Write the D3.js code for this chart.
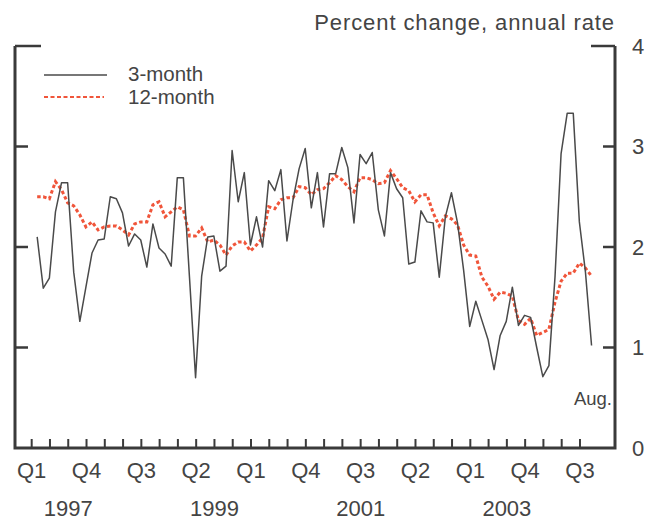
<!DOCTYPE html>
<html>
<head>
<meta charset="utf-8">
<script src="https://cdn.jsdelivr.net/npm/d3@7"></script>
<style>
  body { margin: 0; background: #fff; }
  svg text { font-family: "Liberation Sans", Arial, Helvetica, sans-serif; fill: #444; }
</style>
</head>
<body>
<div id="chart"></div>
<script>
// monthly, Jan 1997 .. Aug 2004
const startYear = 1997;
const threeMonth = [
  2.10, 1.59, 1.69, 2.35, 2.64, 2.64, 1.75, 1.26, 1.60, 1.94, 2.07, 2.08,
  2.50, 2.48, 2.34, 2.01, 2.13, 2.07, 1.80, 2.23, 1.99, 1.93, 1.81, 2.69,
  2.69, 1.70, 0.70, 1.71, 2.10, 2.11, 1.76, 1.81, 2.96, 2.45, 2.74, 2.02,
  2.30, 2.00, 2.66, 2.56, 2.77, 2.06, 2.47, 2.78, 2.98, 2.39, 2.74, 2.20,
  2.73, 2.73, 2.99, 2.79, 2.24, 2.92, 2.83, 2.94, 2.37, 2.11, 2.74, 2.58,
  2.49, 1.83, 1.85, 2.36, 2.25, 2.24, 1.70, 2.30, 2.54, 2.24, 1.77, 1.21,
  1.46, 1.27, 1.08, 0.78, 1.12, 1.26, 1.60, 1.22, 1.32, 1.30, 1.00, 0.71,
  0.82, 1.70, 2.93, 3.33, 3.33, 2.25, 1.75, 1.02
];
const twelveMonth = [
  2.50, 2.50, 2.48, 2.65, 2.57, 2.44, 2.41, 2.32, 2.20, 2.25, 2.17, 2.20,
  2.21, 2.21, 2.17, 2.12, 2.23, 2.25, 2.25, 2.42, 2.45, 2.30, 2.35, 2.40,
  2.37, 2.11, 2.11, 2.19, 2.05, 2.07, 2.02, 1.92, 2.01, 2.05, 2.05, 1.96,
  2.02, 2.09, 2.40, 2.38, 2.47, 2.49, 2.49, 2.60, 2.59, 2.52, 2.57, 2.58,
  2.64, 2.71, 2.67, 2.60, 2.55, 2.69, 2.69, 2.67, 2.63, 2.64, 2.76, 2.68,
  2.59, 2.56, 2.45, 2.52, 2.52, 2.34, 2.21, 2.31, 2.28, 2.22, 2.02, 1.92,
  1.91, 1.70, 1.61, 1.48, 1.55, 1.54, 1.51, 1.27, 1.23, 1.29, 1.12, 1.15,
  1.18, 1.45, 1.66, 1.74, 1.74, 1.84, 1.79, 1.71
];
const quarterLabels = ['Q1', 'Q4', 'Q3', 'Q2', 'Q1', 'Q4', 'Q3', 'Q2', 'Q1', 'Q4', 'Q3'];
const yearLabels = ['1997', '1999', '2001', '2003'];
const yTicks = [0, 1, 2, 3, 4];
const seriesNames = ['3-month', '12-month'];

const width = 660, height = 521;
const plot = { left: 15, right: 615, top: 46, bottom: 448 };
const dark = '#4a4a4a', red = '#f0553a', axisColor = '#3a3a3a';

const svg = d3.select('#chart').append('svg')
  .attr('width', width)
  .attr('height', height);

// x in months from Jan 1997, ticks at quarter starts, points at month end
const x = d3.scaleLinear().domain([-2.74, 95.75]).range([plot.left, plot.right]);
const y = d3.scaleLinear().domain([0, 4]).range([plot.bottom, plot.top]);

const quarterTicks = d3.range(0, 91, 3);

// axes frame
const frame = svg.append('g').attr('stroke', axisColor).attr('fill', 'none');
frame.append('path')
  .attr('stroke-width', 3)
  .attr('d', `M${plot.left},${y(4)}V${plot.bottom}H${plot.right}V${y(4)}`);
// side ticks
frame.selectAll('.lt')
  .data(yTicks.slice(1))
  .join('line')
  .attr('class', 'lt')
  .attr('stroke-width', 2.5)
  .attr('x1', plot.left).attr('x2', d => d === 4 ? plot.left + 26 : plot.left + 13)
  .attr('y1', d => y(d)).attr('y2', d => y(d));
frame.selectAll('.rt')
  .data(yTicks.slice(1))
  .join('line')
  .attr('class', 'rt')
  .attr('stroke-width', 2.5)
  .attr('x1', plot.right).attr('x2', d => d === 4 ? plot.right - 24 : plot.right - 12)
  .attr('y1', d => y(d)).attr('y2', d => y(d));
// bottom ticks
frame.selectAll('.bt')
  .data(quarterTicks)
  .join('line')
  .attr('class', 'bt')
  .attr('stroke-width', 2)
  .attr('x1', d => x(d)).attr('x2', d => x(d))
  .attr('y1', plot.bottom).attr('y2', plot.bottom - 9);

// right axis labels
svg.append('g').selectAll('text')
  .data(yTicks)
  .join('text')
  .attr('x', 638)
  .attr('y', d => y(d))
  .attr('dy', '0.35em')
  .attr('text-anchor', 'middle')
  .attr('font-size', 22)
  .text(d => d);

// quarter labels every third quarter
svg.append('g').selectAll('text')
  .data(quarterLabels)
  .join('text')
  .attr('x', (d, i) => x(i * 9))
  .attr('y', 478)
  .attr('text-anchor', 'middle')
  .attr('font-size', 22)
  .text(d => d);

svg.append('g').selectAll('text')
  .data(yearLabels)
  .join('text')
  .attr('x', d => x((+d - startYear) * 12 + 6))
  .attr('y', 516)
  .attr('text-anchor', 'middle')
  .attr('font-size', 22)
  .text(d => d);

svg.append('text')
  .attr('x', plot.right)
  .attr('y', 30)
  .attr('text-anchor', 'end')
  .attr('font-size', 22)
  .attr('letter-spacing', 0.9)
  .text('Percent change, annual rate');

svg.append('text')
  .attr('x', 612)
  .attr('y', 405)
  .attr('text-anchor', 'end')
  .attr('font-size', 18.5)
  .text('Aug.');

const line = d3.line()
  .x((d, i) => x(i + 0.9))
  .y(d => y(d));

svg.append('path')
  .datum(twelveMonth)
  .attr('fill', 'none')
  .attr('stroke', red)
  .attr('stroke-width', 3)
  .attr('stroke-dasharray', '3.5,2.5')
  .attr('d', line);

svg.append('path')
  .datum(threeMonth)
  .attr('fill', 'none')
  .attr('stroke', dark)
  .attr('stroke-width', 1.5)
  .attr('stroke-linejoin', 'round')
  .attr('d', line);

// legend
const legend = svg.append('g');
legend.append('line')
  .attr('x1', 44).attr('x2', 107).attr('y1', 75).attr('y2', 75)
  .attr('stroke', dark).attr('stroke-width', 1.5);
legend.append('line')
  .attr('x1', 44).attr('x2', 104).attr('y1', 97).attr('y2', 97)
  .attr('stroke', red).attr('stroke-width', 2)
  .attr('stroke-dasharray', '4,2.5');
legend.selectAll('text')
  .data(seriesNames)
  .join('text')
  .attr('x', 128)
  .attr('y', (d, i) => 80.5 + i * 23.5)
  .attr('font-size', 20.5)
  .text(d => d);
</script>
</body>
</html>
